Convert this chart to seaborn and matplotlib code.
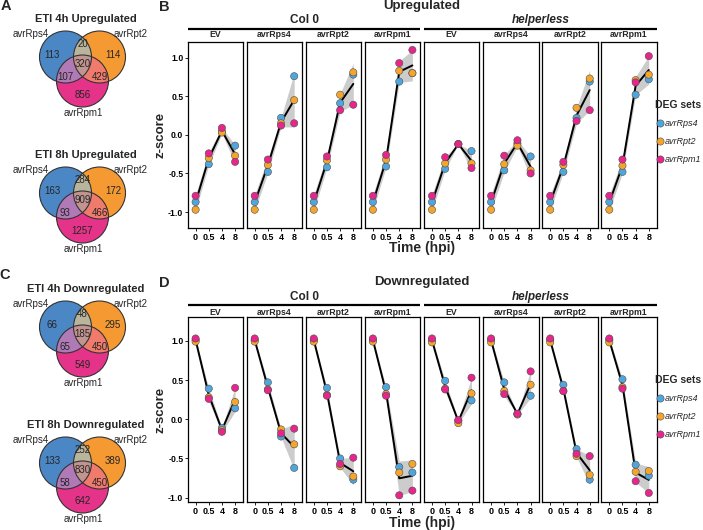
import numpy as np
import pandas as pd
import matplotlib.pyplot as plt
import seaborn as sns
from matplotlib.patches import Circle, Polygon

# =========================================================
# DATEN
# =========================================================
times = ["0", "0.5", "4", "8"]
deg_sets = ["avrRps4", "avrRpt2", "avrRpm1"]
genotypes = ["Col 0", "helperless"]
effectors = ["EV", "avrRps4", "avrRpt2", "avrRpm1"]

# z-scores: 8 panels (Col 0 EV..avrRpm1, helperless EV..avrRpm1) x 4 time points
up_rps4 = [[-0.87, -0.38, 0.04, -0.14], [-0.87, -0.48, 0.22, 0.76],
           [-0.87, -0.42, 0.41, 0.78], [-0.87, -0.41, 0.69, 0.80],
           [-0.87, -0.44, -0.12, -0.21], [-0.87, -0.46, -0.11, -0.28],
           [-0.87, -0.48, 0.22, 0.69], [-0.87, -0.48, 0.52, 0.72]]
up_rpt2 = [[-0.97, -0.30, 0.03, -0.27], [-0.97, -0.39, 0.15, 0.45],
           [-0.97, -0.33, 0.52, 0.81], [-0.97, -0.32, 0.83, 0.80],
           [-0.97, -0.37, -0.12, -0.37], [-0.97, -0.38, -0.14, -0.46],
           [-0.97, -0.39, 0.35, 0.73], [-0.97, -0.40, 0.71, 0.78]]
up_rpm1 = [[-0.79, -0.24, 0.09, -0.35], [-0.79, -0.32, 0.12, 0.15],
           [-0.79, -0.28, 0.32, 0.39], [-0.79, -0.26, 0.93, 1.10],
           [-0.79, -0.29, -0.12, -0.43], [-0.79, -0.27, -0.07, -0.50],
           [-0.79, -0.35, 0.18, 0.32], [-0.79, -0.32, 0.68, 1.02]]

down_rps4 = [[1.01, 0.39, -0.11, 0.14], [1.01, 0.47, -0.22, -0.62],
             [1.01, 0.40, -0.50, -0.77], [1.01, 0.41, -0.61, -0.68],
             [1.01, 0.49, -0.02, 0.24], [1.01, 0.47, 0.07, 0.30],
             [1.01, 0.44, -0.38, -0.77], [1.01, 0.51, -0.58, -0.72]]
down_rpt2 = [[0.99, 0.28, -0.14, 0.22], [0.99, 0.38, -0.13, -0.32],
             [0.99, 0.31, -0.60, -0.73], [0.99, 0.32, -0.68, -0.57],
             [0.98, 0.39, -0.05, 0.33], [0.98, 0.36, 0.06, 0.44],
             [0.98, 0.36, -0.47, -0.71], [0.98, 0.41, -0.67, -0.66]]
down_rpm1 = [[1.03, 0.26, -0.16, 0.40], [1.03, 0.37, -0.18, -0.12],
             [1.03, 0.30, -0.57, -0.49], [1.03, 0.30, -0.97, -0.91],
             [1.03, 0.38, -0.01, 0.53], [1.03, 0.32, 0.07, 0.61],
             [1.03, 0.36, -0.44, -0.47], [1.03, 0.39, -0.79, -0.94]]

# Venn-Zahlen: [nur Rps4, nur Rpt2, Rps4&Rpt2, nur Rpm1, Rps4&Rpm1, Rpt2&Rpm1, alle]
venn_titles = ["ETI 4h Upregulated", "ETI 8h Upregulated",
               "ETI 4h Downregulated", "ETI 8h Downregulated"]
venn_up_4h = [113, 114, 20, 856, 107, 429, 320]
venn_up_8h = [163, 172, 284, 1257, 93, 466, 909]
venn_down_4h = [66, 295, 48, 549, 65, 450, 185]
venn_down_8h = [133, 389, 252, 642, 58, 450, 830]

point_colors = {"avrRps4": "#4fa6dd", "avrRpt2": "#f5a52c", "avrRpm1": "#e8258c"}

# lange Tabelle bauen
rows = []
for direction, sets in [("up", (up_rps4, up_rpt2, up_rpm1)),
                        ("down", (down_rps4, down_rpt2, down_rpm1))]:
    for deg, panels in zip(deg_sets, sets):
        for p, vals in enumerate(panels):
            for t, v in zip(times, vals):
                rows.append({"direction": direction, "deg": deg, "panel": p,
                             "time": t, "z": v})
df = pd.DataFrame(rows)

# =========================================================
# FIGUR
# =========================================================
W, H = 703, 530
sns.set_theme(style="white")
plt.rcParams['font.family'] = ['Liberation Sans', 'DejaVu Sans']

fig = plt.figure(figsize=(W / 100, H / 100), dpi=100)
ov = fig.add_axes([0, 0, 1, 1])
ov.set_xlim(0, W)
ov.set_ylim(H, 0)
ov.axis('off')


def px_axes(x0, y0, x1, y1):
    return fig.add_axes([x0 / W, 1 - y1 / H, (x1 - x0) / W, (y1 - y0) / H])


# ---------------- Venn-Diagramme ----------------
def region(cs, r, n=720):
    t = np.linspace(0, 2 * np.pi, n, endpoint=False)
    pts = np.vstack([np.c_[cx + r * np.cos(t), cy + r * np.sin(t)] for cx, cy in cs])
    keep = np.all([np.hypot(pts[:, 0] - cx, pts[:, 1] - cy) <= r + 1e-6 for cx, cy in cs], axis=0)
    p = pts[keep]
    c = p.mean(0)
    return p[np.argsort(np.arctan2(p[:, 1] - c[1], p[:, 0] - c[0]))]


def draw_venn(yoff, title, counts):
    r = 26
    cb, co, cp = (65.5, 57 + yoff), (99.5, 57 + yoff), (82.5, 81 + yoff)
    for c, col in [(cb, "#4b86c5"), (co, "#f59a32"), (cp, "#e5338a")]:
        ov.add_patch(Circle(c, r, facecolor=col, edgecolor='none'))
    for cs, col in [((cb, co), "#b9b59c"), ((cb, cp), "#b07ab7"),
                    ((co, cp), "#f07a6b"), ((cb, co, cp), "#c29490")]:
        ov.add_patch(Polygon(region(cs, r), closed=True, facecolor=col, edgecolor='none'))
    for c in (cb, co, cp):
        ov.add_patch(Circle(c, r, fill=False, edgecolor='#333333', linewidth=0.8))
    ov.text(86, 19.5 + yoff, title, ha='center', va='center', fontsize=8, weight='bold')
    ov.text(49, 34 + yoff, "avrRps4", ha='right', va='center', fontsize=7)
    ov.text(114, 34 + yoff, "avrRpt2", ha='left', va='center', fontsize=7)
    ov.text(83, 113 + yoff, "avrRpm1", ha='center', va='center', fontsize=7)
    pos = [(52, 55), (113, 55), (82.5, 44), (82.5, 95), (65, 77), (100, 77), (82.5, 64)]
    for (x, y), n in zip(pos, counts):
        ov.text(x, y + yoff, str(n), ha='center', va='center', fontsize=7)


draw_venn(0, venn_titles[0], venn_up_4h)
draw_venn(136, venn_titles[1], venn_up_8h)
draw_venn(270, venn_titles[2], venn_down_4h)
draw_venn(406, venn_titles[3], venn_down_8h)

for letter, x, y in [("A", 6, 6), ("B", 164, 7), ("C", 5, 275), ("D", 164, 283)]:
    ov.text(x, y, letter, ha='center', va='center', fontsize=10.5, weight='bold')

# ---------------- Facetten B und D ----------------
panel_x0 = 187.7
panel_w = 55.3
pitch = 59.1
blocks = [
    # direction, title, y_title, y_group, y_line, y_strip, top, bottom, ylim, y_time
    ("up", "Upregulated", 6, 20, 29, 34.5, 41.7, 227.7, (-1.203, 1.207), 248),
    ("down", "Downregulated", 282, 296.7, 304.7, 312.3, 317.3, 502.3, (-1.059, 1.30), 523),
]

for direction, title, y_title, y_grp, y_line, y_strip, top, bottom, ylim, y_time in blocks:
    xmid = panel_x0 + (7 * pitch + panel_w) / 2
    ov.text(xmid, y_title, title, ha='center', va='center', fontsize=9.5, weight='bold')
    ov.text(xmid, y_time, "Time (hpi)", ha='center', va='center', fontsize=10, weight='bold')
    ov.text(161, (top + bottom) / 2, "z-score", rotation=90, ha='center', va='center',
            fontsize=9.5, weight='bold')
    for g, geno in enumerate(genotypes):
        gx0 = panel_x0 + 4 * g * pitch
        gx1 = gx0 + 3 * pitch + panel_w
        ov.plot([gx0, gx1], [y_line, y_line], color='black', linewidth=1.6, solid_capstyle='butt')
        ov.text((gx0 + gx1) / 2, y_grp, geno, ha='center', va='center', fontsize=8.5,
                weight='bold', style='italic' if geno == "helperless" else 'normal')

    for p in range(8):
        x0 = panel_x0 + p * pitch
        ax = px_axes(x0, top, x0 + panel_w, bottom)
        ov.text(x0 + panel_w / 2, y_strip, effectors[p % 4], ha='center', va='center',
                fontsize=6.3, weight='bold')
        sub = df[(df["direction"] == direction) & (df["panel"] == p)]
        sns.lineplot(data=sub, x="time", y="z", color='black', errorbar=('se', 2),
                     err_kws={'alpha': 0.2, 'linewidth': 0}, linewidth=1.4, ax=ax)
        sns.scatterplot(data=sub, x="time", y="z", hue="deg", hue_order=deg_sets,
                        palette=point_colors, s=27, edgecolor='#4d4d4d', linewidth=0.4,
                        ax=ax, legend=(p == 7), zorder=3)
        ax.set_xlim(-0.6, 3.6)
        ax.set_ylim(*ylim)
        ax.set_xlabel("")
        ax.set_ylabel("")
        for s in ax.spines.values():
            s.set_color('black')
            s.set_linewidth(0.9)
        ax.tick_params(axis='x', bottom=True, length=2.5, width=0.6, pad=1.2,
                       labelsize=6.5, colors='black')
        for lbl in ax.get_xticklabels():
            lbl.set_fontweight('bold')
        if p == 0:
            ax.set_yticks([-1, -0.5, 0, 0.5, 1])
            ax.set_yticklabels(["-1.0", "-0.5", "0.0", "0.5", "1.0"])
            ax.tick_params(axis='y', left=True, length=2.2, width=0.6, pad=1.0,
                           labelsize=6.2, colors='black')
            for lbl in ax.get_yticklabels():
                lbl.set_fontweight('bold')
        else:
            ax.set_yticks([])
        if p == 7:
            h, l = ax.get_legend_handles_labels()
            ax.get_legend().remove()
            keep = [(hh, ll) for hh, ll in zip(h, l) if ll in deg_sets]
            leg = fig.legend([k[0] for k in keep], [k[1] for k in keep], title="DEG sets",
                             loc='upper left', bbox_to_anchor=(655 / W, 1 - (top + 58) / H),
                             frameon=False, fontsize=6.5, title_fontsize=7.5,
                             handletextpad=0.1, labelspacing=1.0, handlelength=1.0,
                             borderaxespad=0, borderpad=0)
            leg.get_title().set_fontweight('bold')
            leg._legend_box.align = 'left'
            for t in leg.get_texts():
                t.set_fontstyle('italic')

fig.savefig("out.png", dpi=100)
